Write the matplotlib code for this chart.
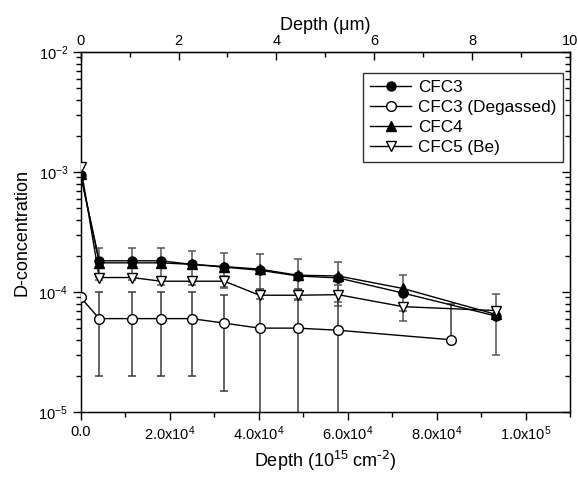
import numpy as np
import matplotlib
matplotlib.use("Agg")
import matplotlib.pyplot as plt
from matplotlib.ticker import FixedLocator, MultipleLocator, LogLocator, NullFormatter

plt.rcParams['font.family'] = ['Liberation Sans', 'DejaVu Sans']
plt.rcParams['mathtext.default'] = 'regular'
plt.rcParams['axes.unicode_minus'] = False

# depth in 10^15 cm^-2
depth = [0, 4170, 11570, 18000, 24960, 32290, 40200, 48790, 57880, 72450, 93400]
cfc3 = [9.4e-4, 1.82e-4, 1.82e-4, 1.82e-4, 1.70e-4, 1.61e-4, 1.52e-4, 1.36e-4, 1.31e-4, 9.8e-5, 6.3e-5]
cfc3_err = [0, 4.9e-5, 4.9e-5, 4.9e-5, 4.9e-5, 5.2e-5, 5.4e-5, 5.1e-5, 4.8e-5, 4.1e-5, 3.3e-5]
cfc4 = [9.6e-4, 1.75e-4, 1.75e-4, 1.75e-4, 1.70e-4, 1.63e-4, 1.55e-4, 1.38e-4, 1.36e-4, 1.07e-4, 6.5e-5]
cfc5 = [1.11e-3, 1.32e-4, 1.32e-4, 1.23e-4, 1.23e-4, 1.23e-4, 9.4e-5, 9.4e-5, 9.5e-5, 7.55e-5, 7.0e-5]
cfc5_err = [0, 5e-6, 5e-6, 8e-6, 8e-6, 1.2e-5, 7e-6, 7e-6, 1.9e-5, 6e-6, 5e-6]

degassed_depth = [0, 4170, 11570, 18000, 24960, 32290, 40200, 48790, 57880, 83220]
degassed = [9.0e-5, 6.0e-5, 6.0e-5, 6.0e-5, 6.0e-5, 5.5e-5, 5.0e-5, 5.0e-5, 4.8e-5, 4.0e-5]
degassed_err_lo = [0, 4e-5, 4e-5, 4e-5, 4e-5, 4e-5, 5.5e-5, 5.5e-5, 5.5e-5, 0]
degassed_err_hi = [0, 4e-5, 4e-5, 4e-5, 4e-5, 4e-5, 5.5e-5, 5.5e-5, 5e-5, 4e-5]

x_ticks = [0, 2e4, 4e4, 6e4, 8e4, 1e5]
x_labels = ['0.0', '2.0x10$^4$', '4.0x10$^4$', '6.0x10$^4$', '8.0x10$^4$', '1.0x10$^5$']
um_per_unit = 1.1e4  # 10 um at 1.1x10^5

fig = plt.figure(figsize=(5.78, 4.83), dpi=100)
ax = fig.add_axes([80.7/578, 71/483, 489.3/578, 360/483])

ecol = '#555555'
ax.errorbar(depth, cfc3, yerr=cfc3_err, fmt='none', ecolor=ecol, elinewidth=1.1, capsize=3, capthick=1.1, zorder=1)
ax.errorbar(depth, cfc5, yerr=cfc5_err, fmt='none', ecolor=ecol, elinewidth=1.1, capsize=3, capthick=1.1, zorder=1)
ax.errorbar(degassed_depth, degassed, yerr=[degassed_err_lo, degassed_err_hi], fmt='none', ecolor='#3a3a3a',
            elinewidth=1.1, capsize=3, capthick=1.1, zorder=1)

ax.plot(depth, cfc3, '-o', color='black', lw=1, ms=6.5, mfc='black', mec='black', label='CFC3', zorder=3)
ax.plot(degassed_depth, degassed, '-o', color='black', lw=1, ms=7, mfc='white', mec='black', label='CFC3 (Degassed)', zorder=3)
ax.plot(depth, cfc4, '-^', color='black', lw=1, ms=6.5, mfc='black', mec='black', label='CFC4', zorder=3)
ax.plot(depth, cfc5, '-v', color='black', lw=1, ms=6.5, mfc='white', mec='black', label='CFC5 (Be)', zorder=3)

ax.set_yscale('log')
ax.set_ylim(1e-5, 1e-2)
ax.set_xlim(0, 1.1e5)

ax.xaxis.set_major_locator(FixedLocator(x_ticks))
ax.set_xticklabels(x_labels)
ax.xaxis.set_minor_locator(MultipleLocator(1e4))
ax.yaxis.set_minor_locator(LogLocator(base=10, subs=np.arange(2, 10)))
ax.yaxis.set_minor_formatter(NullFormatter())

ax.tick_params(axis='x', which='major', direction='out', length=6, width=1, labelsize=10.5, top=False, pad=3)
ax.tick_params(axis='x', which='minor', direction='out', length=3.5, width=1, top=False)
ax.tick_params(axis='y', which='major', direction='out', length=6, width=1, labelsize=10.5, right=False, pad=3)
ax.tick_params(axis='y', which='minor', direction='out', length=3.5, width=1, right=False)

# right spine ticks pointing inward
ax_r = ax.twinx()
ax_r.set_yscale('log')
ax_r.set_ylim(ax.get_ylim())
ax_r.yaxis.set_minor_locator(LogLocator(base=10, subs=np.arange(2, 10)))
ax_r.tick_params(axis='y', which='both', direction='in', labelright=False)
ax_r.tick_params(axis='y', which='major', length=6, width=1)
ax_r.tick_params(axis='y', which='minor', length=3.5, width=1)

# top axis in micrometres
sec = ax.secondary_xaxis('top', functions=(lambda x: x / um_per_unit, lambda x: x * um_per_unit))
sec.xaxis.set_major_locator(MultipleLocator(2))
sec.xaxis.set_minor_locator(MultipleLocator(1))
sec.tick_params(which='major', direction='in', length=6, width=1, labelsize=10.5, pad=3)
sec.tick_params(which='minor', direction='in', length=3.5, width=1)
sec.set_xlabel('Depth (μm)', fontsize=13, labelpad=3)

for s in ax.spines.values():
    s.set_linewidth(1)

ax.set_xlabel(r'Depth (10$^{15}$ cm$^{\text{-2}}$)', fontsize=13, labelpad=4)
ax.set_ylabel('D-concentration', fontsize=13, labelpad=6)

leg = ax.legend(loc='upper right', bbox_to_anchor=(0.986, 0.942), fontsize=12.3, frameon=True,
                fancybox=False, edgecolor='black', handlelength=2.4, borderpad=0.4,
                labelspacing=0.3, handletextpad=0.4, borderaxespad=0)
leg.get_frame().set_linewidth(1)
ax_r.set_zorder(-1)
ax.patch.set_visible(False)

fig.savefig('out.png', dpi=100)
